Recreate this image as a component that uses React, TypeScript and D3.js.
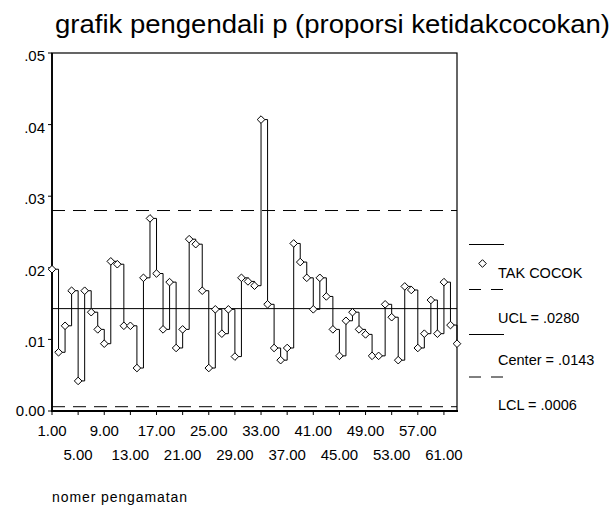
import React from "react";
import * as d3 from "d3";

const proportions: number[] = [
  0.0198, 0.0082, 0.0119, 0.0168, 0.0042, 0.0168, 0.0138, 0.0114, 0.0094, 0.0209,
  0.0205, 0.0119, 0.0119, 0.006, 0.0186, 0.0269, 0.0192, 0.0114, 0.018, 0.0088,
  0.0114, 0.024, 0.0233, 0.0168, 0.006, 0.0142, 0.0108, 0.0142, 0.0076, 0.0186,
  0.0181, 0.0175, 0.0407, 0.0149, 0.0088, 0.0071, 0.0088, 0.0234, 0.0208, 0.0186,
  0.0142, 0.0186, 0.016, 0.0114, 0.0077, 0.0126, 0.0138, 0.0114, 0.0107, 0.0077,
  0.0077, 0.0149, 0.0131, 0.0071, 0.0174, 0.0169, 0.0088, 0.0108, 0.0155, 0.0108,
  0.018, 0.012, 0.0094,
];

const UCL = 0.028;
const CENTER = 0.0143;
const LCL = 0.0006;

const yTicks = [0, 0.01, 0.02, 0.03, 0.04, 0.05];
const yTickLabels = ["0.00", ".01", ".02", ".03", ".04", ".05"];
const xTicks = [1, 5, 9, 13, 17, 21, 25, 29, 33, 37, 41, 45, 49, 53, 57, 61];
const xTickLabels = ["1.00", "5.00", "9.00", "13.00", "17.00", "21.00", "25.00", "29.00", "33.00", "37.00", "41.00", "45.00", "49.00", "53.00", "57.00", "61.00"];

const title = "grafik pengendali p (proporsi ketidakcocokan)";
const xTitle = "nomer pengamatan";
const seriesName = "TAK COCOK";
const legendLabels = ["UCL = .0280", "Center = .0143", "LCL = .0006"];

const W = 613;
const H = 509;
const FONT = "'Liberation Sans', Arial, Helvetica, sans-serif";

function Diamond({ cx, cy, r = 3.8 }: { cx: number; cy: number; r?: number }) {
  return (
    <path
      d={`M${cx},${cy - r}L${cx + r},${cy}L${cx},${cy + r}L${cx - r},${cy}Z`}
      fill="#fff"
      stroke="#000"
      strokeWidth={1}
    />
  );
}

export default function App() {
  const left = 52, right = 457, top = 53, bottom = 411;
  const x = d3.scaleLinear().domain([1, proportions.length]).range([left, right]);
  const y = d3.scaleLinear().domain([0, 0.05]).range([bottom, top]);

  const pts = proportions.map((v, i) => [x(i + 1), y(v)] as [number, number]);
  const stepPath = d3.line().curve(d3.curveStepAfter)(pts) || "";

  const dash = "13,8";
  const lx0 = 469, lx1 = 504;

  return (
    <svg
      width={W}
      height={H}
      style={{ position: "absolute", left: 0, top: 0, background: "#fff" }}
      fontFamily={FONT}
    >
      <rect x={0} y={0} width={W} height={H} fill="#fff" />
      <text x={55} y={33} fontSize={26} textLength={555} lengthAdjust="spacingAndGlyphs" fill="#000">
        {title}
      </text>

      {/* frame */}
      <rect x={left} y={top} width={right - left} height={bottom - top} fill="none" stroke="#000" strokeWidth={1.2} />
      <line x1={left} y1={top} x2={left} y2={bottom + 1} stroke="#000" strokeWidth={1.8} />
      <line x1={left} y1={bottom} x2={right + 1} y2={bottom} stroke="#000" strokeWidth={1.8} />

      {/* y axis */}
      {yTicks.map((t, i) => (
        <g key={"y" + i}>
          <line x1={left - 4} x2={left} y1={y(t)} y2={y(t)} stroke="#000" strokeWidth={1} />
          <text
            x={45}
            y={y(t) + (i === 0 ? -1 : 2.5)}
            fontSize={15}
            textAnchor="end"
            dominantBaseline="central"
            fill="#000"
          >
            {yTickLabels[i]}
          </text>
        </g>
      ))}

      {/* x axis */}
      {xTicks.map((t, i) => (
        <g key={"x" + i}>
          <line x1={x(t)} x2={x(t)} y1={bottom} y2={bottom + 4} stroke="#000" strokeWidth={1} />
          <text x={x(t)} y={i % 2 === 0 ? 435.5 : 459.5} fontSize={15} textAnchor="middle" fill="#000">
            {xTickLabels[i]}
          </text>
        </g>
      ))}
      <text x={52} y={502} fontSize={14} textLength={135} lengthAdjust="spacing" fill="#000">
        {xTitle}
      </text>

      {/* control lines */}
      <line x1={left} x2={right} y1={y(UCL)} y2={y(UCL)} stroke="#000" strokeWidth={1} strokeDasharray={dash} />
      <line x1={left} x2={right} y1={y(CENTER)} y2={y(CENTER)} stroke="#000" strokeWidth={1} />
      <line x1={left} x2={right} y1={y(LCL)} y2={y(LCL)} stroke="#000" strokeWidth={1} strokeDasharray={dash} />

      {/* series */}
      <path d={stepPath} fill="none" stroke="#000" strokeWidth={1} />
      {pts.map((p, i) => (
        <Diamond key={"p" + i} cx={p[0]} cy={p[1]} />
      ))}

      {/* legend */}
      <line x1={lx0} x2={lx1} y1={244.5} y2={244.5} stroke="#000" strokeWidth={1} />
      <Diamond cx={482.5} cy={263.5} />
      <text x={498} y={278} fontSize={14.5} fill="#000">{seriesName}</text>
      <line x1={lx0} x2={lx1} y1={289.5} y2={289.5} stroke="#000" strokeWidth={1} strokeDasharray="12,10" />
      <text x={498} y={322.5} fontSize={14.5} fill="#000">{legendLabels[0]}</text>
      <line x1={lx0} x2={lx1} y1={334.5} y2={334.5} stroke="#000" strokeWidth={1} />
      <text x={498} y={365} fontSize={14.5} fill="#000">{legendLabels[1]}</text>
      <line x1={lx0} x2={lx1} y1={377} y2={377} stroke="#000" strokeWidth={1} strokeDasharray="12,10" />
      <text x={498} y={410} fontSize={14.5} fill="#000">{legendLabels[2]}</text>
    </svg>
  );
}
